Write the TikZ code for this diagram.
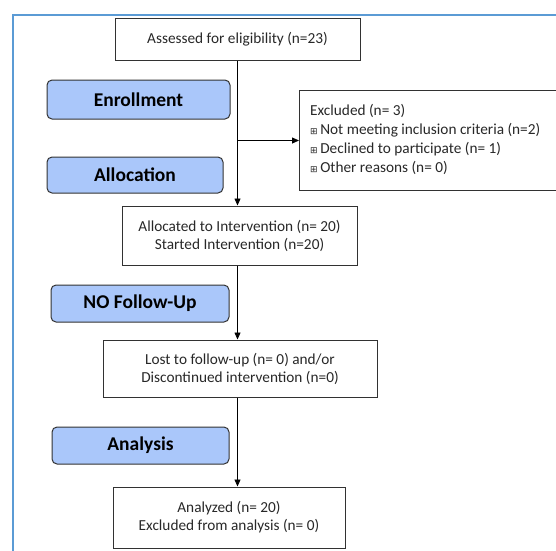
\documentclass[tikz,border=0pt]{standalone}
\usepackage{fontspec}
\setmainfont{Carlito}
\newfontfamily\boxsym{DejaVu Sans}
\usetikzlibrary{arrows.meta}

\definecolor{frameblue}{RGB}{91,155,213}
\definecolor{stagefill}{RGB}{170,199,250}
\definecolor{boxline}{RGB}{50,50,50}
\definecolor{txt}{RGB}{40,40,40}

\tikzset{
    flowbox/.style={draw=boxline, fill=white, line width=1pt, inner sep=0pt,
        align=center, text=txt, font=\fontsize{15.3}{18}\selectfont},
    stage/.style={draw=boxline, fill=stagefill, line width=1pt, rounded corners=5pt,
        inner sep=0pt, text=black, font=\fontsize{19.5}{21}\selectfont\bfseries},
    flow/.style={draw=black, line width=0.8pt, -{Triangle[length=7pt,width=6pt]}}
}
\newcommand{\exitem}{{\boxsym\fontsize{9}{10}\selectfont ⊞}\,}

\begin{document}
\begin{tikzpicture}[x=1pt, y=-1pt]
    \useasboundingbox (0,0) rectangle (556,550);

    % frame
    \draw[frameblue, line width=1.5pt] (13,560) -- (13,15) -- (570,15);

    % main boxes
    \node[flowbox, minimum width=245pt, minimum height=42pt] (assess) at (237.5,39) {Assessed for eligibility (n=23)};
    \node[flowbox, minimum width=235pt, minimum height=59pt] (alloc) at (239.5,235.5) {Allocated to Intervention (n= 20)\\Started Intervention (n=20)};
    \node[flowbox, minimum width=274pt, minimum height=57pt] (lost) at (240,368.5) {Lost to follow-up (n= 0) and/or\\Discontinued intervention (n=0)};
    \node[flowbox, minimum width=232pt, minimum height=61pt] (analyzed) at (229,517.5) {Analyzed (n= 20)\\Excluded from analysis (n= 0)};
    \node[flowbox, minimum width=300pt, minimum height=100pt, anchor=north west] (excl) at (299,90) {};
    \node[anchor=north west, align=left, text=txt, inner sep=0pt,
        font=\fontsize{15.3}{19}\selectfont] (excltext) at (310,104)
        {Excluded (n= 3)\\\exitem Not meeting inclusion criteria (n=2)\\\exitem Declined to participate (n= 1)\\\exitem Other reasons (n= 0)};

    % stage labels
    \node[stage, minimum width=183pt, minimum height=39pt] (enroll) at (138.5,99.5) {Enrollment};
    \node[stage, minimum width=176pt, minimum height=36pt] (allocation) at (135,175) {Allocation};
    \node[stage, minimum width=178pt, minimum height=37pt] (nofollow) at (140,303.5) {NO Follow-Up};
    \node[stage, minimum width=177pt, minimum height=37pt] (analysis) at (140.5,445.5) {Analysis};

    % connectors
    \coordinate (split) at (assess.south |- excl.west);
    \draw[flow] (assess.south) -- (alloc.north -| assess.south);
    \draw[flow] (split) -- (excl.west);
    \draw[flow] (alloc.south -| assess.south) -- (lost.north -| assess.south);
    \draw[flow] (lost.south -| assess.south) -- (analyzed.north -| assess.south);
\end{tikzpicture}
\end{document}
